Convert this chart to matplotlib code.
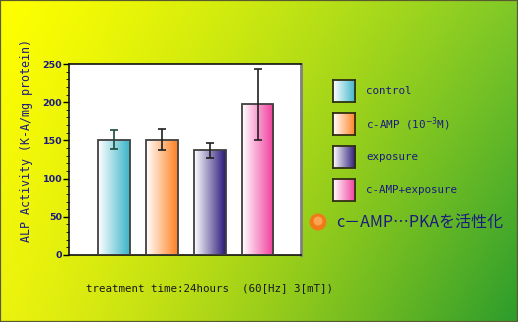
import numpy as np
import matplotlib
matplotlib.use("Agg")
import matplotlib.pyplot as plt
from matplotlib.colors import LinearSegmentedColormap
from matplotlib.patches import Ellipse, Rectangle

groups = ["control", "c-AMP (10$^{-3}$M)", "exposure", "c-AMP+exposure"]
values = [151, 151, 137, 197]
errors = [12, 14, 9.5, 47]
colors = ["#3ab4c8", "#ff8020", "#2a1878", "#f03c9c"]
err_colors = ["#1e4a3a", "#202020", "#202020", "#202020"]

navy = "#1a1a80"
W, H = 518, 322
fig = plt.figure(figsize=(W / 100, H / 100), dpi=100)

# background: diagonal yellow -> green
bg = fig.add_axes([0, 0, 1, 1])
xx, yy = np.meshgrid(np.linspace(0, 1, 200), np.linspace(0, 1, 120))
tl = np.array([255, 255, 0]) / 255
tr = np.array([128, 200, 40]) / 255
bl = np.array([235, 242, 14]) / 255
br = np.array([44, 156, 44]) / 255
xs = xx[..., None] ** 1.25
img = ((1 - yy[..., None]) * ((1 - xs) * tl + xs * tr)
       + yy[..., None] * ((1 - xs) * bl + xs * br))
bg.imshow(img, extent=[0, 1, 0, 1], aspect="auto", origin="upper")
bg.set_xlim(0, 1)
bg.set_ylim(0, 1)
bg.axis("off")
bg.add_patch(Rectangle((0, 0), 1, 1, fill=False, edgecolor="#5a5a30", lw=1.6,
                       transform=bg.transAxes))

ax = fig.add_axes([69 / W, 67 / H, 232 / W, 191 / H])
ax.set_facecolor("white")
x = np.arange(1, len(values) + 1)
width = 0.65
grad = np.linspace(0, 1, 100).reshape(1, -1)
for xi, v, c in zip(x, values, colors):
    cmap = LinearSegmentedColormap.from_list("g", ["white", c])
    bar = ax.bar(xi, v, width, facecolor="none", edgecolor="#404040", lw=1.3, zorder=3)[0]
    im = ax.imshow(grad, cmap=cmap, extent=[xi - width / 2, xi + width / 2, 0, v],
                   aspect="auto", zorder=2)
    im.set_clip_path(bar)
for xi, v, e, ec in zip(x, values, errors, err_colors):
    ax.errorbar(xi, v, yerr=e, color=ec, capsize=3, lw=1.2, capthick=1.2, zorder=4)

ax.set_xlim(0.06, 4.9)
ax.set_ylim(0, 250)
ax.set_xticks([])
ax.set_yticks(np.arange(0, 251, 50))
ax.set_yticks(np.arange(0, 251, 10), minor=True)
ax.tick_params(axis="y", which="major", direction="out", length=4, width=1,
               labelsize=6.8, labelcolor=navy, pad=1)
ax.tick_params(axis="y", which="minor", direction="out", length=2, width=0.6)
for lab in ax.get_yticklabels():
    lab.set_fontweight("bold")
for s in ["left", "bottom", "top"]:
    ax.spines[s].set_color("#101010")
    ax.spines[s].set_linewidth(1.2)
ax.spines["right"].set_color("#808080")
ax.spines["right"].set_linewidth(2)
ax.set_ylabel("ALP Activity (K-A/mg protein)", family="DejaVu Sans Mono",
              fontsize=8.4, color=navy)
ax.yaxis.set_label_coords(-36 / 232, 0.6)

# legend
ys = [91, 124, 157, 190]
for yc, c, g in zip(ys, colors, groups):
    la = fig.add_axes([333 / W, (H - yc - 11) / H, 22 / W, 22 / H])
    cmap = LinearSegmentedColormap.from_list("g", ["white", c])
    la.imshow(grad, cmap=cmap, aspect="auto")
    la.set_xticks([])
    la.set_yticks([])
    for s in la.spines.values():
        s.set_color("#303010")
        s.set_linewidth(1.3)
    fig.text(366 / W, 1 - yc / H, g, family="DejaVu Sans Mono", fontsize=7.8,
             color=navy, va="center")

cx, cy = 318 / W, 1 - 222 / H
fig.patches.append(Ellipse((cx, cy), 17 / W, 17 / H, transform=fig.transFigure,
                           facecolor="#f07a18", edgecolor="none"))
fig.patches.append(Ellipse((cx, cy + 1 / H), 9 / W, 9 / H, transform=fig.transFigure,
                           facecolor="#ffb060", edgecolor="none", alpha=0.8))
fig.text(336 / W, 1 - 222 / H, "c－AMP…PKAを活性化", family=["Noto Sans CJK JP", "DejaVu Sans"],
         fontsize=11.5, color=navy, va="center")

fig.text(86 / W, 1 - 288 / H, "treatment time:24hours  (60[Hz] 3[mT])",
         family="DejaVu Sans Mono", fontsize=7.8, color="#181818", va="center")

fig.savefig("out.png", dpi=100)
